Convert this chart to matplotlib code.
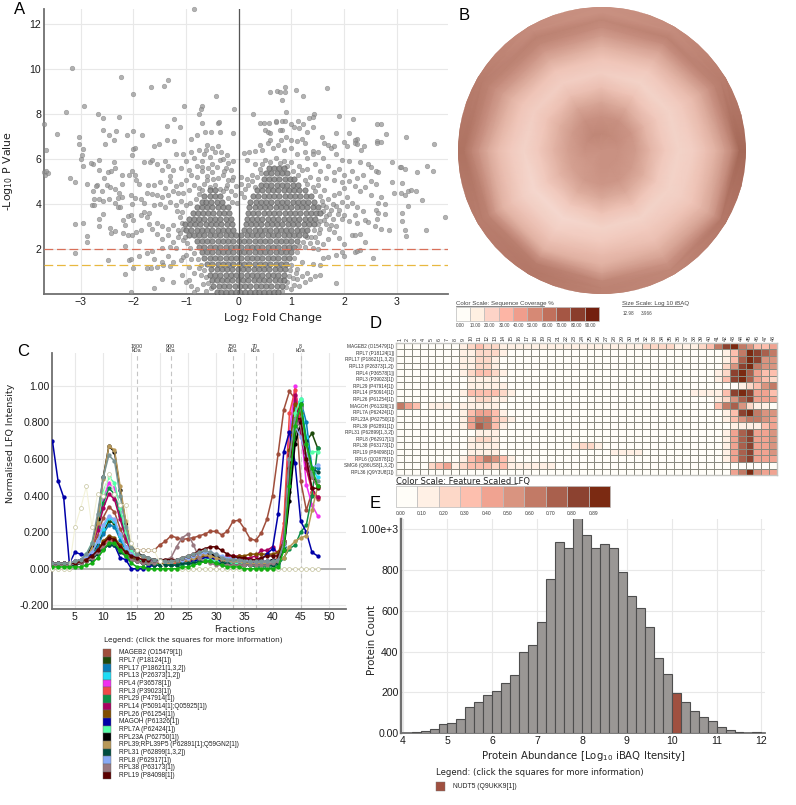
import matplotlib
matplotlib.use("Agg")
import matplotlib.pyplot as plt
import numpy as np
from matplotlib.colors import LinearSegmentedColormap, ListedColormap
from matplotlib.lines import Line2D
from matplotlib.patches import Circle, Rectangle

W, H = 796, 805
plt.rcParams['font.family'] = ['Liberation Sans', 'DejaVu Sans']
plt.rcParams['mathtext.default'] = 'regular'

# panel A, scattered points (log2 fold change, -log10 p)
volcano_top = [(-.85,12.63),(-3.17,10.05),(-2.24,9.65),(-1.35,9.5),(-1.41,9.25),(-1.66,9.2),(-2.0,8.87),(-.43,8.77),(-3.27,8.1),(-2.93,8.33),(-1.04,8.35),(-.69,8.33),(-.72,8.2),(-.76,8.0),(-.09,8.23),(-2.67,8.0),(-2.58,7.8),(-2.27,7.87),(-3.7,7.55),(-3.44,7.1),(-2.57,7.3),(-2.33,7.25),(-2.12,7.07),(-2.0,7.25),(-1.84,7.07),(-2.46,7.05),(-3.03,6.95),(-3.03,6.65),(-2.95,6.45),(-2.97,6.15),(-3.0,6.0),(-2.36,6.85),(-2.53,6.65),(-1.37,7.45),(-1.11,7.4),(-1.23,7.75),(-.7,7.6),(-.4,7.6),(-.37,7.65),(-.64,7.2),(-.53,7.2),(-.36,7.2),(-.1,7.15),(-.91,6.9),(-.8,7.05),(-1.23,6.8),(-1.36,6.85),(-3.65,6.4),(-2,6.45),(-1.97,6.5),(-1.6,6.55),(-1.52,6.65),(-2.02,6.15),
    (1.67,9.15),(.87,9.2),(.87,8.95),(.72,9.0),(.78,8.95),(.6,8.95),(1.08,9.05),(1.22,8.8),(.82,8.6),(.9,8.1),(.27,8.0),(1.9,7.92),(2.17,7.78),(1.42,7.98),(1.4,7.85),(1.33,7.8),(1.12,7.7),(.7,7.65),(.7,7.7),(.82,7.7),(.87,7.7),(1.0,7.55),(.58,7.6),(.4,7.6),(.48,7.6),(1.22,7.55),(1.4,7.4),(1.15,7.35),(1.05,7.4),(.82,7.3),(.78,7.3),(.5,7.3),(.55,7.2),(.6,7.15),(2.62,7.55),(2.7,7.55),(2.8,7.1),(2.1,7.15),(1.85,7.15),(1.58,6.95),(1.3,7.2),(2.25,6.9),(2.2,6.85),(2.2,6.7),(2.25,6.65),(2.0,6.75),(2.62,6.8),(2.62,6.7),(2.7,6.75),(2.38,6.55),(2.32,6.4),(2.05,6.55),(1.7,6.6),(1.75,6.5),(1.8,6.55),(1.62,6.7),(3.17,6.97),(3.71,6.65)]
volcano_upper_mid = [(-2.65,5.95),(-2.77,5.75),(-2.95,5.7),(-3.7,5.4),(-3.67,5.3),(-3.62,5.35),(-3.66,5.45),(-3.2,5.15),(-3.1,4.95),(-2.88,4.88),(-2.8,5.8),(-2.65,5.5),(-2.55,5.15),(-2.48,5.4),(-2.42,5.45),(-2.35,5.6),(-2.37,5.85),(-2.68,4.85),(-2.7,4.8),(-2.6,4.55),(-2.5,4.85),(-2.45,4.75),(-2.35,4.65),(-2.27,4.5),(-2.22,5.3),(-2.22,4.9),(-2.77,4.55),(-2.75,4.2),(-2.65,4.2),(-2.58,4.15),(-2.47,4.2),(-2.78,3.95),(-2.75,3.95),(-2.35,4.05),(-2.3,4.25),(-2.22,4.3),(-2.3,3.85),(-2.25,3.85),(-2.08,5.3),(-2.02,5.45),(-1.97,5.3),(-1.95,5.05),(-1.9,4.9),(-2.05,4.4),(-2.03,4.0),(-1.97,4.25),(-1.85,4.2),(-1.8,4.05),(-1.75,4.5),(-1.73,4.85),(-1.68,5.85),(-1.8,5.85),(-1.65,5.95),(-1.55,5.75),(-1.45,5.5),(-1.4,5.9),(-1.35,5.7),(-1.3,5.25),(-1.25,5.5),(-1.2,6.2),(-1.1,5.6),(-1.05,6.2),(-1.0,5.9),(-.95,5.5),(-1.5,4.95),(-1.6,4.85),(-1.4,4.7),(-1.3,5.0),(-1.2,4.8),(-1.1,4.9),(-1,5.05),(-1.55,4.4),(-1.65,4.45),(-1.45,4.3),(-1.35,4.4),(-1.25,4.55),(-1.15,4.5),(-1.05,4.5),(-1.5,4.0),(-1.4,3.85),(-1.3,4.1),(-1.2,3.95),(-1.1,4.15),(-1.6,3.95),
    (-.9,6.3),(-.85,6.05),(-.8,5.7),(-.75,6.4),(-.7,5.9),(-.65,6.2),(-.6,6.6),(-.55,6.1),(-.5,5.75),(-.45,6.3),(-.4,6.55),(-.35,5.95),(-.3,6.0),(-.25,5.6),(-.2,5.8),(-.15,5.5),(-.1,5.9),(-.9,5.3),(-.8,5.2),(-.7,5.45),(-.6,5.25),(-.5,5.4),(-.4,5.15),(-.3,5.3),(-.2,5.05),(-.1,5.2),(-.05,4.8),(-.85,4.85),(-.75,4.7),(-.65,4.9),(-.55,4.75),(-.45,4.85),(-.35,4.65),(-.25,4.7),(-.15,4.55),(-.95,4.6),(-.2,4.25),(-.12,4.1),
    (.1,6.25),(.2,6.3),(.3,6.35),(.45,6.4),(.4,6.6),(.55,6.7),(.6,6.85),(.8,6.85),(.9,6.95),(1.0,6.85),(1.2,6.9),(1.1,6.8),(1.25,6.7),(.65,6.5),(.75,6.6),(.85,6.4),(1.0,6.5),(1.1,6.2),(1.25,6.3),(1.3,6.05),(1.4,6.35),(1.5,6.3),(1.4,6.2),(1.6,6.05),(1.85,6.2),(1.95,5.95),(2.1,5.9),(2.3,5.85),(2.45,5.75),(2.5,5.65),(2.6,5.45),(2.65,5.4),(2.9,5.85),(3.05,5.65),(3.08,5.63),(3.16,5.56),(3.57,5.66),(3.39,5.4),(3.68,5.45),(2.9,4.95),(3.09,4.94),(2.95,4.5),(3.08,4.5),(3.16,4.4),(3.22,4.55),(3.26,4.6),(3.36,4.55),(3.48,4.18),(3.22,3.92),(3.09,3.58),(3.92,3.42),(3.09,3.24),(3.16,2.85),(3.56,2.83),(3.18,2.59),
    (.15,5.95),(.3,5.75),(.4,5.55),(.25,5.3),(.15,5.1),(.05,5.2),(.5,5.95),(.7,6.05),(.85,5.9),(1.0,5.85),(1.15,5.7),(1.3,5.55),(1.45,5.75),(1.55,5.45),(1.7,5.7),(1.8,5.4),(1.9,5.55),(2.0,5.3),(2.15,5.45),(2.25,5.15),(2.35,5.3),(2.5,5.0),(2.4,4.75),(2.6,4.9),(2.3,4.55),(2.2,4.8),(2.1,5.0),(1.95,4.95),(1.8,5.05),(1.65,5.15),(1.5,5.1),(1.35,5.2),(1.25,5.05),(2.5,4.4),(2.65,4.05),(2.78,4.0),(2.7,4.3)]
volcano_lower_mid = [(-3.1,3.1),(-2.95,3.15),(-2.58,3.55),(-2.65,3.35),(-2.65,3.0),(-2.45,2.95),(-2.42,2.7),(-2.35,2.78),(-2.88,2.58),(-2.88,2.33),(-2.2,3.3),(-2.1,3.45),(-2.05,3.5),(-2.15,3.05),(-2.2,2.7),(-2.1,2.62),(-2.03,2.6),(-1.95,2.75),(-1.9,2.35),(-1.85,2.85),(-1.85,3.5),(-2.0,3.3),(-1.8,3.65),(-1.7,3.6),(-1.75,3.4),(-1.7,3.1),(-1.65,2.9),(-1.55,3.15),(-1.45,3.0),(-1.35,2.9),(-1.25,3.05),(-1.15,2.85),(-1.55,2.65),(-1.45,2.45),(-1.35,2.6),(-1.25,2.3),(-1.15,2.55),(-1.05,2.4),(-1.05,2.9),(-1.3,2.1),(-1.2,2.05),(-1.45,2.05),(-2.15,2.15),(-3.1,1.83),(-2.08,1.5),(-2.05,1.55),(-1.9,1.7),(-2.0,1.15),(-2.15,.9),(-2.05,.1),(-2.48,1.5),(-1.75,1.8),(-1.65,1.9),(-1.6,1.55),(-1.67,1.15),(-1.55,1.2),(-1.75,1.15),(-1.45,1.4),(-1.35,1.7),(-1.25,1.4),(-1.3,1.25),(-1.43,1.3),(-1.45,.65),(-1.25,.55),(-1.07,.85),(-1.0,.55),(-.95,.6),(-1.6,.25),(-1.1,1.5),(-1.05,1.65),(-1.0,1.75),(-.95,1.2),(-.9,1.55),(-.85,.95),(-.9,.35),(-.8,.2),(-.85,.1),
    (1.5,2.0),(1.6,1.6),(1.7,1.65),(1.55,1.3),(1.4,1.35),(1.55,.85),(1.45,.8),(1.3,.95),(1.2,.8),(1.1,.65),(1.05,.4),(1.15,.35),(1.25,.55),(1.35,.65),(1.85,.5),(1.0,.2),(1.1,1.1),(1.2,1.4),(1.25,2.1),(1.35,2.25),(1.45,2.55),(1.6,2.2),(1.7,2.45),(1.8,2.75),(1.55,2.9),(1.65,3.1),(1.75,3.05),(1.85,3.0),(1.95,3.35),(2.0,3.5),(2.05,3.9),(1.95,4.1),(1.85,3.9),(1.75,3.75),(1.7,4.2),(1.6,3.95),(1.65,3.45),(1.8,4.4),(1.9,4.5),(2.05,4.3),(2.15,4.05),(2.25,3.85),(2.2,3.5),(2.35,3.7),(2.4,3.3),(2.1,3.25),(2.25,3.15),(2.45,3.2),(2.6,3.75),(2.65,3.6),(2.58,3.0),(2.7,2.9),(2.85,2.85),(2.78,3.55),(2.62,3.35),(2.0,1.7),(1.95,1.85),(2.15,2.6),(2.2,2.6),(2.3,2.65),(2.4,2.3),(2.2,1.85),(2.25,1.9),(2.3,1.95),(2.0,2.2),(1.85,1.75),(1.9,2.5),(2.55,1.6)]
# the looser halo directly around the two lobes
volcano_halo = [(-1.12,3.4),(-1.18,3.7),(-1.08,3.65),(-1.0,3.95),(-.92,4.05),(-.82,4.2),(-.75,4.45),(-.7,4.62),(-1.08,3.15),(-1.12,2.7),(-1.02,2.55),(-.98,2.25),(-.92,2.05),(-.85,1.8),(-.78,1.55),(-.72,1.3),(-.66,1.05),(-.62,.75),(-.58,.5),(-.52,.25),(-.72,.85),(-.75,1.15),(-.68,.45),(-.62,.15),(-.08,4.4),(-.04,4.05),(-.3,4.55),(-.22,4.85),(-.12,5.05),(-.6,5.05),(-.48,5.1),(-.7,5.65),(-.58,5.6),(-.42,5.62),(-.28,5.45),(-.62,6.4),(-.5,6.5),(-.34,6.3),(-.22,6.15),
    (.05,4.5),(.1,4.3),(.12,4.65),(.18,4.85),(.25,5.0),(.3,4.75),(.35,5.2),(.42,5.35),(.05,4.9),(.45,5.75),(.6,5.85),(.78,5.8),(.92,5.7),(1.02,5.45),(1.12,5.3),(1.2,5.5),(1.3,4.9),(1.4,4.75),(1.45,4.55),(1.5,4.85),(1.55,4.35),(1.62,4.6),(1.58,4.15),(1.66,3.85),(1.6,3.7),(1.62,3.3),(1.55,3.25),(1.5,3.1),(1.52,2.7),(1.42,2.85),(1.38,2.55),(1.3,2.55),(1.22,2.3),(1.15,2.15),(1.1,1.85),(1.05,1.6),(1.0,1.3),(.98,1.05),(.95,.8),(.92,.55),(.9,.3),(.82,.12),(1.08,.95),(1.02,.72),(1.48,2.3),(1.4,2.05),(1.72,2.9),(1.78,3.35),(1.88,3.55),(1.72,3.55),(1.78,4.0),(1.9,3.75),(2.0,4.7)]
# panel A, the packed core: one y level per row with the x positions on that level
volcano_row_y = [.1,.35,.6,.85,1.1,1.35,1.6,1.85,2.1,2.35,2.6,2.85,3.1,3.35,3.6,3.85,4.1,4.35,4.6,4.85,5.1,5.35,5.6]
volcano_row_x = [
    [-.42,-.33,-.24,-.15,-.06,.03,.12,.21,.3,.39,.48,.57,.66,.75],
    [-.48,-.38,-.28,-.18,-.08,.02,.12,.22,.32,.42,.52,.62,.72,.82],
    [-.5,-.42,-.32,-.22,-.12,-.02,.08,.18,.28,.38,.48,.58,.68,.78,.86],
    [-.55,-.45,-.35,-.25,-.15,-.05,.05,.15,.25,.35,.45,.55,.65,.75,.85],
    [-.52,-.42,-.32,-.22,-.12,-.02,.08,.18,.28,.38,.48,.58,.68,.78,.88],
    [-.6,-.5,-.4,-.3,-.2,-.1,0,.1,.2,.3,.4,.5,.6,.7,.8,.9],
    [-.65,-.55,-.45,-.35,-.25,-.15,-.05,.05,.15,.25,.35,.45,.55,.65,.75,.85,.95],
    [-.7,-.6,-.5,-.4,-.3,-.2,-.1,0,.1,.2,.3,.4,.5,.6,.7,.8,.9,1.0],
    [-.75,-.65,-.55,-.45,-.35,-.25,-.15,-.05,.05,.15,.25,.35,.45,.55,.65,.75,.85,.95,1.05],
    [-.8,-.7,-.6,-.5,-.4,-.3,-.2,-.1,0,.1,.2,.3,.4,.5,.6,.7,.8,.9,1.0,1.1],
    [-.95,-.85,-.75,-.65,-.55,-.45,-.35,-.25,-.15,-.05,.05,.15,.25,.35,.45,.55,.65,.75,.85,.95,1.05,1.15,1.25],
    [-1.0,-.9,-.8,-.7,-.6,-.5,-.4,-.3,-.2,-.1,.1,.2,.3,.4,.5,.6,.7,.8,.9,1.0,1.1,1.2,1.3],
    [-1.02,-.93,-.83,-.73,-.63,-.53,-.43,-.33,-.23,-.13,.13,.23,.33,.43,.53,.63,.73,.83,.93,1.03,1.13,1.23,1.33,1.42],
    [-.95,-.85,-.75,-.65,-.55,-.45,-.35,-.25,-.15,.15,.25,.35,.45,.55,.65,.75,.85,.95,1.05,1.15,1.25,1.35,1.45],
    [-.87,-.78,-.68,-.58,-.48,-.38,-.28,-.18,.17,.27,.37,.47,.57,.67,.77,.87,.97,1.07,1.17,1.27,1.37,1.47,1.55],
    [-.8,-.7,-.6,-.5,-.4,-.3,-.2,.2,.3,.4,.5,.6,.7,.8,.9,1.0,1.1,1.2,1.3,1.4,1.5],
    [-.7,-.62,-.52,-.42,-.32,.22,.32,.42,.52,.62,.72,.82,.92,1.02,1.12,1.22,1.32,1.42],
    [-.65,-.55,-.45,-.35,.27,.37,.47,.57,.67,.77,.87,.97,1.07,1.17,1.27,1.37],
    [-.55,-.45,.35,.45,.55,.65,.75,.85,.95,1.05,1.15,1.25],
    [.42,.52,.62,.72,.82,.92,1.02,1.12],
    [.47,.57,.67,.77,.87,.97,1.05],
    [.52,.62,.72,.82,.92],
    [.57,.67,.77,.85]]

# panel B, mean sequence coverage % at ring radii (fraction of the radius), 12 sectors counter-clockwise from east
coverage_radius = [0,.12,.24,.34,.44,.54,.64,.73,.8,.86,.91,.96,1.0,1.08]
coverage_rings = [
    [50,50,50,50,50,50,50,50,50,50,50,50],
    [50,52,53,54,54,52,50,48,48,50,50,50],
    [46,48,50,50,50,46,44,44,46,48,48,46],
    [36,36,40,42,42,38,36,36,38,40,40,38],
    [28,28,30,32,32,30,28,28,28,30,30,28],
    [24,24,24,26,26,26,24,22,22,24,24,24],
    [26,28,28,30,30,30,28,26,26,28,28,26],
    [32,34,36,38,40,38,34,32,32,34,32,30],
    [38,42,44,46,48,46,42,38,38,38,38,36],
    [46,50,52,52,54,52,50,48,50,46,44,42],
    [54,56,56,54,56,56,56,56,58,54,50,50],
    [66,58,52,50,52,58,62,58,60,56,54,60],
    [66,58,52,50,52,58,62,58,60,56,54,60],
    [66,58,52,50,52,58,62,58,60,56,54,60]]
coverage_mean_colors = ['#f6dcd3','#efc4b7','#dcab9c','#c99182','#b47868','#9c5f4e']
coverage_labels = ['0.00','10.00','20.00','30.00','40.00','50.00','60.00','70.00','80.00','90.00']
coverage_colors = ['#fffdf8','#fff0e2','#fdd3c7','#fdb5a5','#ef9d8c','#d68975','#c0705c','#a55644','#8a3d2c','#731f0e']

# panel C, normalised LFQ per fraction 1..48
mageb2 = [.03,.03,.03,.03,.03,.04,.06,.11,.18,.28,.34,.31,.22,.15,.11,.10,.10,.10,.10,.13,.15,.18,.17,.16,.165,.17,.18,.19,.205,.205,.185,.205,.26,.265,.22,.165,.155,.195,.27,.40,.63,.87,.97,.93,.48,.32,.42,.38]
rpl7 = [.03,.03,.03,.03,.03,.04,.05,.08,.13,.20,.26,.25,.18,.12,.07,.05,.04,.04,.03,.03,.03,.03,.03,.04,.04,.05,.06,.07,.07,.06,.05,.04,.04,.04,.03,.03,.03,.03,.03,.03,.04,.10,.42,.72,.89,.70,.74,.66]
rpl17 = [.02,.02,.02,.02,.03,.03,.05,.07,.12,.19,.24,.23,.16,.10,.06,.04,.03,.03,.02,.02,.02,.02,.03,.03,.03,.04,.05,.05,.05,.04,.04,.03,.03,.03,.02,.02,.02,.02,.02,.03,.04,.15,.45,.80,.92,.80,.55,.55]
rpl13 = [.03,.03,.03,.03,.03,.04,.06,.09,.15,.22,.28,.26,.18,.11,.07,.05,.04,.04,.03,.03,.03,.03,.04,.04,.05,.06,.07,.08,.08,.07,.05,.05,.04,.04,.03,.03,.03,.03,.03,.03,.05,.20,.75,.88,.93,.72,.55,.50]
rpl4 = [.03,.03,.03,.03,.03,.05,.07,.13,.24,.38,.47,.44,.31,.19,.10,.06,.04,.03,.03,.02,.02,.02,.02,.03,.03,.03,.04,.04,.04,.04,.03,.03,.03,.03,.02,.02,.02,.02,.02,.02,.03,.20,.75,1.0,.78,.46,.35,.29]
rpl3 = [.02,.02,.02,.02,.02,.03,.04,.06,.09,.13,.16,.15,.11,.08,.05,.04,.03,.03,.03,.02,.02,.03,.03,.03,.04,.04,.05,.05,.05,.05,.04,.07,.07,.06,.06,.05,.05,.04,.04,.04,.06,.25,.85,.98,.80,.55,.42,.39]
rpl29 = [.02,.02,.02,.02,.03,.05,.07,.13,.23,.36,.44,.41,.29,.18,.09,.05,.03,.02,.02,.02,.02,.02,.02,.02,.03,.03,.04,.04,.04,.03,.03,.02,.02,.02,.02,.02,.01,.01,.01,.01,.02,.06,.11,.13,.20,.24,.40,.66]
rpl14 = [.03,.03,.03,.03,.04,.05,.07,.12,.21,.33,.41,.38,.27,.17,.09,.06,.05,.04,.04,.03,.03,.03,.04,.04,.05,.06,.07,.08,.08,.07,.06,.07,.07,.07,.06,.06,.07,.10,.10,.12,.08,.15,.62,.95,.75,.55,.44,.39]
rpl26 = [.03,.03,.03,.03,.03,.04,.05,.07,.10,.15,.18,.17,.13,.09,.06,.05,.04,.04,.03,.03,.03,.03,.04,.04,.05,.05,.06,.07,.07,.06,.05,.06,.06,.07,.07,.08,.08,.08,.08,.08,.09,.15,.65,.90,.85,.60,.50,.45]
magoh = [.70,.48,.39,.03,.09,.08,.07,.08,.09,.11,.13,.13,.06,.05,.00,.00,.00,.01,.02,.02,.02,.02,.02,.03,.03,.04,.05,.06,.06,.05,.04,.03,.03,.03,.03,.03,.04,.05,.08,.11,.30,.64,.75,.58,.26,.20,.09,.07]
rpl7a = [.02,.02,.02,.02,.03,.05,.08,.14,.26,.42,.50,.47,.33,.20,.10,.06,.04,.03,.03,.02,.02,.02,.02,.03,.03,.03,.04,.05,.05,.04,.03,.03,.03,.03,.02,.02,.02,.02,.02,.02,.03,.12,.55,.85,.93,.60,.64,.64]
rpl23a = [.03,.03,.03,.03,.04,.05,.07,.12,.27,.50,.67,.64,.43,.25,.12,.09,.07,.06,.05,.04,.04,.04,.05,.05,.06,.07,.09,.09,.08,.07,.05,.05,.05,.05,.04,.04,.04,.04,.04,.05,.05,.10,.37,.68,.80,.60,.52,.45]
rpl39 = [.03,.03,.03,.03,.03,.04,.06,.11,.25,.49,.67,.65,.45,.26,.12,.08,.06,.05,.04,.04,.03,.03,.04,.04,.05,.06,.07,.08,.07,.06,.05,.04,.04,.04,.03,.03,.03,.03,.03,.03,.04,.06,.12,.15,.17,.18,.32,.45]
rpl31 = [.02,.02,.02,.02,.02,.03,.04,.05,.08,.11,.13,.13,.09,.07,.05,.04,.03,.03,.02,.02,.02,.02,.02,.03,.03,.03,.04,.04,.04,.03,.03,.03,.02,.02,.02,.02,.02,.02,.02,.02,.03,.12,.50,.80,.90,.70,.55,.53]
rpl8 = [.03,.03,.03,.03,.04,.05,.07,.09,.15,.24,.29,.27,.19,.12,.08,.06,.05,.05,.04,.04,.04,.04,.05,.05,.06,.07,.08,.09,.09,.08,.07,.06,.06,.05,.05,.04,.04,.04,.04,.04,.05,.13,.60,.78,.72,.62,.55,.57]
rpl38 = [.02,.02,.02,.02,.03,.03,.04,.06,.09,.12,.15,.14,.11,.08,.05,.04,.03,.03,.03,.04,.05,.06,.12,.17,.19,.13,.06,.04,.03,.02,.02,.02,.02,.02,.02,.02,.02,.02,.02,.03,.04,.15,.55,.80,.78,.60,.50,.45]
rpl19 = [.03,.03,.03,.03,.03,.04,.05,.07,.10,.14,.17,.16,.12,.09,.07,.06,.05,.05,.05,.05,.05,.05,.05,.06,.07,.08,.10,.11,.12,.12,.10,.08,.07,.06,.06,.05,.05,.06,.07,.07,.07,.14,.55,.82,.82,.60,.44,.44]
rpl6 = [.03,.03,.03,.03,.04,.05,.08,.14,.30,.50,.62,.59,.40,.23,.12,.08,.07,.06,.05,.05,.04,.04,.05,.06,.07,.08,.09,.10,.09,.08,.06,.05,.05,.05,.04,.04,.04,.04,.04,.04,.05,.14,.60,.82,.88,.68,.52,.48]
smg6 = [.00,.00,.00,.00,.23,.33,.45,.23,.41,.40,.52,.41,.35,.35,.14,.10,.10,.10,.10,.04,.00,.00,.00,.00,.00,.00,.00,.00,.00,.00,.00,.00,.00,.00,.00,.00,.00,.00,.00,.00,.00,.00,.00,.00,.00,.00,.00,.00]
rpl36 = [.01,.01,.01,.01,.01,.01,.02,.03,.06,.10,.14,.14,.10,.07,.03,.01,.01,.00,.00,.00,.00,.00,.00,.01,.01,.02,.03,.04,.04,.03,.02,.01,.01,.01,.00,.00,.00,.00,.00,.00,.01,.10,.45,.78,.90,.68,.55,.45]

series_values = [mageb2,rpl7,rpl17,rpl13,rpl4,rpl3,rpl29,rpl14,rpl26,magoh,rpl7a,rpl23a,rpl39,rpl31,rpl8,rpl38,rpl19,rpl6,smg6,rpl36]
series_colors = ['#a04e3c','#1e4a0c','#0a7db5','#1fdcf5','#f030f0','#f04848','#0d8f48','#a80060','#804d00','#0000a8','#55ffa8','#000000','#b89858','#004d40','#88aaf5','#987880','#5a0000','#7a9494','#e8e6c0','#12b012']
legend_labels = ['MAGEB2 (O15479[1])','RPL7 (P18124[1])','RPL17 (P18621[1,3,2])','RPL13 (P26373[1,2])','RPL4 (P36578[1])','RPL3 (P39023[1])','RPL29 (P47914[1])','RPL14 (P50914[1];Q05925[1])','RPL26 (P61254[1])','MAGOH (P61326[1])','RPL7A (P62424[1])','RPL23A (P62750[1])','RPL39;RPL39P5 (P62891[1];Q59GN2[1])','RPL31 (P62899[1,3,2])','RPL8 (P62917[1])','RPL38 (P63173[1])','RPL19 (P84098[1])']
marker_fractions = [16,22,33,37,45]
marker_labels = ['1800','900','150','70','8']

# panel D, colour bin (0-9) per fraction, eight groups of six fractions
heat_names = ['MAGEB2 (O15479[1])','RPL7 (P18124[1])','RPL17 (P18621[1,3,2])','RPL13 (P26373[1,2])','RPL4 (P36578[1])','RPL3 (P39023[1])','RPL29 (P47914[1])','RPL14 (P50914[1])','RPL26 (P61254[1])','MAGOH (P61326[1])','RPL7A (P62424[1])','RPL23A (P62750[1])','RPL39 (P62891[1])','RPL31 (P62899[1,3,2])','RPL8 (P62917[1])','RPL38 (P63173[1])','RPL19 (P84098[1])','RPL6 (Q02878[1])','SMG6 (Q86US8[1,3,2])','RPL36 (Q9Y3U8[1])']
heat_rows = [
    '000000 001232 211111 111111 111111 122221 112368 965334',
    '000000 001122 210000 000000 000000 000000 000001 369876',
    '000000 001122 100000 000000 000000 000000 000001 379855',
    '000000 001122 100000 000000 000000 000000 000002 589655',
    '000000 001233 210000 000000 000000 000000 000012 897433',
    '000000 000111 100000 000000 000000 000000 000013 897432',
    '000000 000111 110000 000000 000000 000000 000000 012356',
    '000000 001333 321000 000000 000000 000000 011113 898443',
    '000000 000122 110000 000000 000000 000000 000012 578444',
    '643011 101111 100000 000000 000000 000000 000036 752110',
    '000000 001344 310000 000000 000000 000000 000001 389655',
    '000000 001466 321000 000000 000000 000000 000001 356654',
    '000000 001476 310000 000000 000000 000000 000000 111134',
    '000000 000011 100000 000000 000000 000000 000001 478445',
    '000000 000122 100000 000000 000000 000000 000001 478445',
    '000000 000111 100000 000012 210000 000000 000001 478445',
    '000000 000111 100000 000000 000111 100000 000001 478445',
    '000000 001346 531000 000000 000000 000000 000001 478444',
    '000023 412333 231111 110000 000000 000000 000000 000000',
    '000000 000000 000000 000000 000000 000000 000000 469544']
heat_colors = ['#fffdf8','#fff0e5','#fdd8c8','#fdbfae','#f0a391','#d99480','#c27a66','#a9604d','#8c4230','#7b2a12']
heat_scale_labels = ['0.00','0.10','0.20','0.30','0.40','0.50','0.60','0.70','0.80','0.89']

# panel E, histogram counts per 0.2 wide bin from 4.0
hist_left = [4.0,4.2,4.4,4.6,4.8,5.0,5.2,5.4,5.6,5.8,6.0,6.2,6.4,6.6,6.8,7.0,7.2,7.4,7.6,7.8,8.0,8.2,8.4,8.6,8.8,9.0,9.2,9.4,9.6,9.8,10.0,10.2,10.4,10.6,10.8,11.0,11.2,11.4,11.6,11.8]
hist_count = [3,8,13,21,44,51,70,127,154,186,206,245,284,399,433,544,755,938,907,1060,974,908,928,907,789,672,613,521,369,289,199,154,108,78,62,31,15,8,2,5]
hist_highlight = 10.0


def box(l, t, r, b):
    return [l/W, 1-b/H, (r-l)/W, (b-t)/H]

def put(x, y, s, size=6, **kw):
    kw.setdefault('va', 'center')
    kw.setdefault('color', '#222222')
    return fig.text(x/W, 1-y/H, s, fontsize=size, **kw)

def rect(l, t, r, b, color, edge='none', lw=0):
    fig.add_artist(Rectangle((l/W, 1-b/H), (r-l)/W, (b-t)/H, transform=fig.transFigure, fc=color, ec=edge, lw=lw))

def underline(l, r, y):
    fig.add_artist(Line2D([l/W, r/W], [1-y/H, 1-y/H], transform=fig.transFigure, color='#555555', lw=.5))

def style(ax, tick=7.6):
    for s in ['top', 'right']:
        ax.spines[s].set_visible(False)
    for s in ['left', 'bottom']:
        ax.spines[s].set_color('#707070')
        ax.spines[s].set_linewidth(1.3)
    ax.tick_params(length=0, labelsize=tick, pad=2, labelcolor='#1c1c1c')
    ax.grid(True, color='#e8e8e8', lw=.8)
    ax.set_axisbelow(True)


fig = plt.figure(figsize=(W/100, H/100), dpi=100)

# A
ax = fig.add_axes(box(44, 9, 448, 294))
style(ax)
pts = volcano_top + volcano_upper_mid + volcano_lower_mid + volcano_halo
ax.scatter([p[0] for p in pts], [p[1] for p in pts], s=11, fc=(.58,.58,.58,.72), ec=(.45,.45,.45,.6), lw=.4, zorder=3, clip_on=False)
for y, xs in zip(volcano_row_y, volcano_row_x):
    ax.scatter(xs, [y]*len(xs), s=15, fc=(.5,.5,.5,.85), ec=(.3,.3,.3,.75), lw=.45, zorder=3)
ax.axvline(0, color='#555555', lw=.9, zorder=4)
ax.axhline(2, color='#d9705a', lw=.9, ls=(0, (7, 3)), zorder=5)
ax.axhline(1.3, color='#e8b840', lw=.9, ls=(0, (7, 3)), zorder=5)
ax.set_xlim(-3.695, 3.97)
ax.set_ylim(0, 12.65)
ax.set_xticks([-3,-2,-1,0,1,2,3])
ax.set_yticks([2,4,6,8,10,12])
put(273, 318, 'Log$_{2}$ Fold Change', 8, ha='center', family='DejaVu Sans')
put(8, 171, '-Log$_{10}$ P Value', 7.9, ha='center', rotation=90, family='DejaVu Sans')

# B
ax = fig.add_axes(box(455, 4, 748, 297))
ax.axis('off')
ax.set_xlim(-146.5, 146.5)
ax.set_ylim(-146.5, 146.5)
ax.set_aspect('equal')
angles = np.deg2rad(np.arange(13)*30)
cov = np.array(coverage_rings, dtype=float)
cov = np.hstack([cov, cov[:, :1]])
radii = np.array(coverage_radius)[:, None]*144
mean_map = LinearSegmentedColormap.from_list('mean_coverage', coverage_mean_colors)
mesh = ax.pcolormesh(radii*np.cos(angles), radii*np.sin(angles), cov, cmap=mean_map, vmin=20, vmax=70, shading='gouraud')
mesh.set_clip_path(Circle((0, 0), 144, transform=ax.transData))
put(455.5, 303, 'Color Scale: Sequence Coverage %', 4.4, color='#444444')
underline(455.5, 544, 306)
for i, c in enumerate(coverage_colors):
    l = 455.5 + i*14.35
    rect(l, 307, l+14.35, 321.3, c, '#bbbbbb', .5)
    put(l, 325, coverage_labels[i], 3.3, color='#444444')
put(621.7, 303, 'Size Scale: Log 10 iBAQ', 4.4, color='#444444')
underline(621.7, 682, 306)
put(623, 313.5, '12.98', 3.3, color='#444444')
put(641, 313.5, '3.966', 3.3, color='#444444')

# C
ax = fig.add_axes(box(52.3, 353, 345.7, 609))
style(ax)
for v, c in zip(series_values, series_colors):
    x = np.arange(1, len(v)+1)
    if v is smg6:
        ax.plot(x, v, color='#f3f2d8', lw=.8, marker='o', ms=2.8, mfc='white', mec='#c4c29c', mew=.5, zorder=3, clip_on=False)
    else:
        ax.plot(x, v, color=c, lw=1.1, marker='o', ms=3.1, mew=0, zorder=3)
ax.axhline(0, color='#b0b0b0', lw=1.4, zorder=2)
for f, t in zip(marker_fractions, marker_labels):
    ax.axvline(f, color='#c4c4c4', lw=.8, ls=(0, (4, 3)), zorder=2)
    px = 75 + (f-5)*5.644
    put(px-.5, 346, t, 3.9, ha='center', color='#333333')
    put(px-.5, 350, 'kDa', 3.9, ha='center', color='#333333')
ax.set_xlim(.98, 52.97)
ax.set_ylim(-.22, 1.18)
ax.set_xticks(range(5, 55, 5))
ax.set_yticks([-.2,0,.2,.4,.6,.8,1.0])
ax.set_yticklabels(['-0.200','0.00','0.200','0.400','0.600','0.800','1.00'])
put(11, 443.5, 'Normalised LFQ Intensity', 6.8, ha='center', rotation=90, family='DejaVu Sans')
put(234.7, 629, 'Fractions', 6.5, ha='center', family='DejaVu Sans')
put(103.5, 640, 'Legend: (click the squares for more information)', 5.3, family='DejaVu Sans')
for i, t in enumerate(legend_labels):
    y = 652.7 + i*7.67
    rect(103.3, y-3.8, 111, y+3.8, series_colors[i], '#666666', .3)
    put(119, y, t, 4.7)

# D
ax = fig.add_axes(box(395.7, 342.7, 777.3, 475.3))
heat = np.array([[int(c) for c in r.replace(' ', '')] for r in heat_rows])
ax.pcolormesh(np.arange(heat.shape[1]+1), np.arange(heat.shape[0]+1), heat, cmap=ListedColormap(heat_colors), vmin=0, vmax=9, edgecolors='#8a8a80', lw=.55)
ax.set_ylim(heat.shape[0], 0)
ax.set_xlim(0, heat.shape[1])
for s in ax.spines.values():
    s.set_color('#c4c4c0')
    s.set_linewidth(1)
ax.xaxis.tick_top()
ax.set_xticks(np.arange(heat.shape[1])+.5)
ax.set_xticklabels([str(i+1) for i in range(heat.shape[1])], rotation=90, fontsize=3.9, color='#333333')
ax.set_yticks(np.arange(heat.shape[0])+.5)
ax.set_yticklabels(heat_names, fontsize=3.4, color='#333333')
ax.tick_params(length=0, pad=1.2)
put(396, 481, 'Color Scale: Feature Scaled LFQ', 6, family='DejaVu Sans')
underline(396, 516, 484.5)
for i, c in enumerate(heat_colors):
    l = 395.7 + i*21.43
    rect(l, 486, l+21.43, 507.3, c, '#bbbbbb', .5)
    put(l, 513, heat_scale_labels[i], 3.5, color='#333333')

# E
ax = fig.add_axes(box(401.3, 519.3, 765, 733.3))
style(ax)
ax.spines['left'].set_linewidth(1.7)
bar_colors = ['#a05040' if b == hist_highlight else '#9a9795' for b in hist_left]
ax.bar(hist_left, hist_count, width=.2, align='edge', color=bar_colors, edgecolor='#4e4e4e', lw=.8, zorder=3)
ax.set_xlim(3.97, 12.08)
ax.set_ylim(0, 1049)
ax.set_xticks(range(4, 13))
ax.set_yticks([0,200,400,600,800,1000])
ax.set_yticklabels(['0.00','200','400','600','800','1.00e+3'])
put(583, 756, 'Protein Abundance [Log$_{10}$ iBAQ Itensity]', 7.3, ha='center', family='DejaVu Sans')
put(372, 640, 'Protein Count', 7.4, ha='center', rotation=90, family='DejaVu Sans')
put(436, 772, 'Legend: (click the squares for more information)', 6.1, family='DejaVu Sans')
rect(435.7, 781.7, 444.5, 790.7, '#a05040', '#777777', .3)
put(453.3, 786, 'NUDT5 (Q9UKK9[1])', 4.9)

# panel letters
for x, y, t in [(14,10,'A'),(459,15,'B'),(17,351,'C'),(370,323,'D'),(370,503,'E')]:
    put(x, y, t, 12, color='black')

fig.savefig('out.png', dpi=100)
